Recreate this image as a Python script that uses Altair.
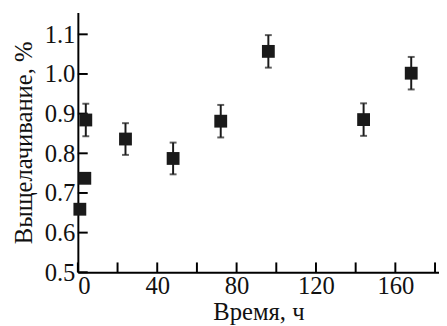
import altair as alt
import pandas as pd

# data
time_h = [1, 3.5, 4, 24, 48, 72, 96, 144, 168]
leach = [0.659, 0.737, 0.884, 0.836, 0.787, 0.881, 1.057, 0.885, 1.002]
err = [0, 0, 0.041, 0.040, 0.040, 0.041, 0.041, 0.041, 0.041]

x_tick_vals = [0, 20, 40, 60, 80, 100, 120, 140, 160, 180]
x_label_vals = [0, 40, 80, 120, 160]
y_tick_vals = [0.5, 0.6, 0.7, 0.8, 0.9, 1.0, 1.1]

df = pd.DataFrame({"t": time_h, "v": leach, "e": err})
df["lo"] = df["v"] - df["e"]
df["hi"] = df["v"] + df["e"]

W, H = 367, 264
FONT = "Liberation Serif"
FS = 25

xs = alt.Scale(domain=[0, 182], nice=False, zero=False)
ys = alt.Scale(domain=[0.5, 1.155], nice=False, zero=False)

xax = alt.Axis(values=x_label_vals, tickSize=0, grid=False, labelPadding=2,
               title="Время, ч", titlePadding=1)
yax = alt.Axis(values=y_tick_vals, format=".1f", tickSize=0, grid=False,
               labelPadding=3, title="Выщелачивание, %", titlePadding=8)

base = alt.Chart(df)

pts = base.mark_square(size=170, color="#1a1a1a", opacity=1).encode(
    x=alt.X("t:Q", scale=xs, axis=xax),
    y=alt.Y("v:Q", scale=ys, axis=yax),
)

ebars = base.transform_filter("datum.e > 0").mark_rule(color="#1a1a1a", strokeWidth=2).encode(
    x=alt.X("t:Q", scale=xs),
    y=alt.Y("lo:Q", scale=ys),
    y2="hi:Q",
)
cap_lo = base.transform_filter("datum.e > 0").mark_tick(color="#1a1a1a", thickness=2, size=7, orient="horizontal").encode(
    x=alt.X("t:Q", scale=xs), y=alt.Y("lo:Q", scale=ys))
cap_hi = base.transform_filter("datum.e > 0").mark_tick(color="#1a1a1a", thickness=2, size=7, orient="horizontal").encode(
    x=alt.X("t:Q", scale=xs), y=alt.Y("hi:Q", scale=ys))

xt = alt.Chart(pd.DataFrame({"x": x_tick_vals})).mark_rule(color="black", strokeWidth=2).encode(
    x=alt.X("x:Q", scale=xs), y=alt.value(H), y2=alt.value(H - 10))
yt = alt.Chart(pd.DataFrame({"y": y_tick_vals})).mark_rule(color="black", strokeWidth=2).encode(
    y=alt.Y("y:Q", scale=ys), x=alt.value(0), x2=alt.value(10))

chart = alt.layer(xt, yt, ebars, cap_lo, cap_hi, pts).properties(
    width=W, height=H,
    autosize=alt.AutoSizeParams(type="none"),
    padding={"left": 71, "top": 2, "right": 0, "bottom": 52},
).configure(background="white", font=FONT).configure_view(stroke=None).configure_axis(
    labelFont=FONT, titleFont=FONT, labelFontSize=FS, titleFontSize=25,
    titleFontWeight="normal", labelColor="#111111", titleColor="#111111",
    domainColor="black", domainWidth=2,
)

chart.save("out.html", embed_options={"renderer": "svg", "actions": False})
